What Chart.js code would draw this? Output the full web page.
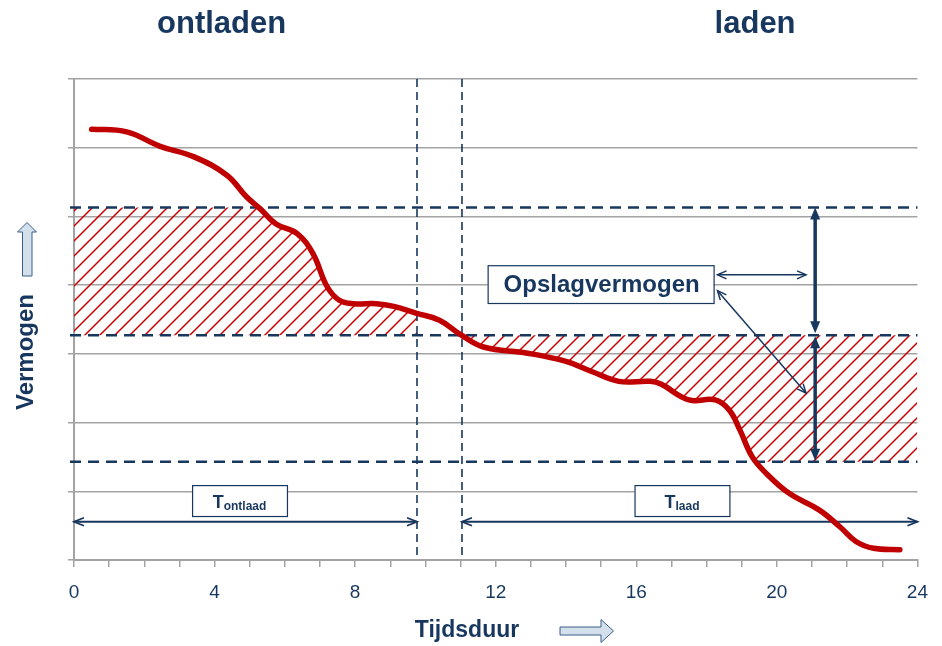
<!DOCTYPE html>
<html>
<head>
<meta charset="utf-8">
<script src="https://cdn.jsdelivr.net/npm/chart.js@4/dist/chart.umd.min.js"></script>
<style>
html, body { margin: 0; padding: 0; background: #fff; }
canvas { display: block; }
</style>
</head>
<body>
<canvas id="vermogenChart" width="942" height="646"></canvas>
<script>
// Vermogen over de tijdsduur (uren)
const uren = [0.5, 1.5, 2.45, 3.4, 4.35, 4.9, 5.3, 5.75, 6.35, 6.8, 7.2, 7.55, 7.95, 8.6, 9.1, 9.75, 10.4, 11.0,
              11.65, 12.9, 14.0, 14.75, 15.5, 16.4, 16.7, 17.5, 18.25, 18.65, 18.95, 19.3, 19.7, 20.35, 21.2,
              21.8, 22.25, 22.75, 23.5];
const vermogen = [6.27, 6.23, 6.02, 5.87, 5.6, 5.29, 5.11, 4.89, 4.75, 4.46, 3.98, 3.78, 3.73, 3.73, 3.69, 3.59,
                  3.49, 3.28, 3.10, 3.01, 2.89, 2.74, 2.60, 2.60, 2.56, 2.33, 2.33, 2.18, 1.89, 1.50, 1.26, 0.97,
                  0.73, 0.48, 0.27, 0.17, 0.15];
const tijdLabels = [0, 4, 8, 12, 16, 20, 24];
const niveaus = [5.13, 3.27, 1.43];   // bovengrens, middenlijn, ondergrens
const grenzen = [9.76, 11.04];        // einde ontladen, begin laden

const NAVY = '#17375e';
const ROOD = '#c00000';
const GRIJS = '#a3a3a3';

function maakArcering(ctx) {
  const s = 15;
  const c = document.createElement('canvas');
  c.width = s; c.height = s;
  const g = c.getContext('2d');
  g.strokeStyle = '#cc0000';
  g.lineWidth = 1.5;
  g.beginPath();
  g.moveTo(0, s); g.lineTo(s, 0);
  g.moveTo(-2, 2); g.lineTo(2, -2);
  g.moveTo(s - 2, s + 2); g.lineTo(s + 2, s - 2);
  g.stroke();
  return ctx.createPattern(c, 'repeat');
}

// arceer de band tussen yLo en yHi, onder of boven de curve
function arceer(chart, x0, x1, yLo, yHi, kant) {
  const { ctx, chartArea: a, scales: { x, y } } = chart;
  const lijn = chart.getDatasetMeta(0).dataset;
  lijn.updateControlPoints(a, 'x');
  const pts = lijn.points;
  const eerste = pts[0], laatste = pts[pts.length - 1];
  const rand = kant === 'onder' ? a.bottom : a.top;
  ctx.save();
  ctx.beginPath();
  ctx.rect(x.getPixelForValue(x0), y.getPixelForValue(yHi),
           x.getPixelForValue(x1) - x.getPixelForValue(x0),
           y.getPixelForValue(yLo) - y.getPixelForValue(yHi));
  ctx.clip();
  ctx.beginPath();
  lijn.path(ctx);
  ctx.lineTo(a.right, laatste.y);
  ctx.lineTo(a.right, rand);
  ctx.lineTo(a.left, rand);
  ctx.lineTo(a.left, eerste.y);
  ctx.closePath();
  ctx.clip();
  ctx.fillStyle = maakArcering(ctx);
  ctx.fillRect(a.left, a.top, a.width, a.height);
  ctx.restore();
}

function pijlKop(ctx, x0, y0, x1, y1, len, half, gevuld) {
  const hoek = Math.atan2(y1 - y0, x1 - x0);
  const bx = x1 - len * Math.cos(hoek), by = y1 - len * Math.sin(hoek);
  const nx = -Math.sin(hoek) * half, ny = Math.cos(hoek) * half;
  ctx.beginPath();
  ctx.moveTo(bx + nx, by + ny);
  ctx.lineTo(x1, y1);
  ctx.lineTo(bx - nx, by - ny);
  if (gevuld) { ctx.closePath(); ctx.fill(); } else { ctx.stroke(); }
}

function dubbelePijl(ctx, x0, y0, x1, y1, breedte, len, half, gevuld) {
  ctx.save();
  ctx.strokeStyle = NAVY;
  ctx.fillStyle = NAVY;
  ctx.lineWidth = breedte;
  const d = Math.hypot(x1 - x0, y1 - y0);
  const ux = (x1 - x0) / d, uy = (y1 - y0) / d;
  const inkort = gevuld ? len * 0.6 : 0;
  ctx.beginPath();
  ctx.moveTo(x0 + ux * inkort, y0 + uy * inkort);
  ctx.lineTo(x1 - ux * inkort, y1 - uy * inkort);
  ctx.stroke();
  ctx.lineWidth = gevuld ? 1 : breedte;
  pijlKop(ctx, x1, y1, x0, y0, len, half, gevuld);
  pijlKop(ctx, x0, y0, x1, y1, len, half, gevuld);
  ctx.restore();
}

function labelVak(ctx, x0, y0, x1, y1) {
  ctx.save();
  ctx.fillStyle = '#ffffff';
  ctx.fillRect(x0, y0, x1 - x0, y1 - y0);
  ctx.strokeStyle = NAVY;
  ctx.lineWidth = 1.2;
  ctx.strokeRect(x0 + 0.5, y0 + 0.5, x1 - x0, y1 - y0);
  ctx.restore();
}

function tMetIndex(ctx, cx, basis, index) {
  ctx.save();
  ctx.fillStyle = NAVY;
  ctx.textBaseline = 'alphabetic';
  ctx.textAlign = 'left';
  ctx.font = 'bold 18px "Liberation Sans", Arial, sans-serif';
  const wT = ctx.measureText('T').width;
  ctx.font = 'bold 12px "Liberation Sans", Arial, sans-serif';
  const wI = ctx.measureText(index).width;
  const start = cx - (wT + wI) / 2;
  ctx.font = 'bold 18px "Liberation Sans", Arial, sans-serif';
  ctx.fillText('T', start, basis);
  ctx.font = 'bold 12px "Liberation Sans", Arial, sans-serif';
  ctx.fillText(index, start + wT, basis + 2);
  ctx.restore();
}

// blokpijl zoals naast de astitels
function blokPijl(ctx, punten) {
  ctx.save();
  ctx.fillStyle = '#d3dfea';
  ctx.strokeStyle = '#3b5f88';
  ctx.lineWidth = 1;
  ctx.beginPath();
  punten.forEach(([px, py], i) => i ? ctx.lineTo(px, py) : ctx.moveTo(px, py));
  ctx.closePath();
  ctx.fill();
  ctx.stroke();
  ctx.restore();
}

const schets = {
  id: 'schets',
  beforeDatasetsDraw(chart) {
    const { ctx, chartArea: a, scales: { x, y } } = chart;
    const px = v => x.getPixelForValue(v);
    const py = v => y.getPixelForValue(v);

    arceer(chart, 0, grenzen[0], niveaus[1], niveaus[0], 'onder');
    arceer(chart, grenzen[1], 24, niveaus[2], niveaus[1], 'boven');

    // gestreepte niveaulijnen
    ctx.save();
    ctx.strokeStyle = NAVY;
    ctx.lineWidth = 2.5;
    ctx.setLineDash([11, 7]);
    niveaus.forEach(n => {
      ctx.beginPath();
      ctx.moveTo(a.left - 4, py(n));
      ctx.lineTo(a.right, py(n));
      ctx.stroke();
    });
    ctx.lineWidth = 1.6;
    ctx.setLineDash([8, 5]);
    grenzen.forEach(t => {
      ctx.beginPath();
      ctx.moveTo(px(t), a.top);
      ctx.lineTo(px(t), a.bottom);
      ctx.stroke();
    });
    ctx.restore();

    // opslagvermogen
    dubbelePijl(ctx, px(21.09), py(niveaus[0]), px(21.09), py(niveaus[1]) - 2, 3.5, 12, 5, true);
    dubbelePijl(ctx, px(21.09), py(niveaus[1]) + 1, px(21.09), py(niveaus[2]) - 1, 3.5, 12, 5, true);
    dubbelePijl(ctx, px(18.31), py(4.15), px(20.83), py(4.15), 1.5, 9, 4, false);
    dubbelePijl(ctx, px(18.31), py(3.92), px(20.83), py(2.43), 1.5, 9, 4, false);
    labelVak(ctx, px(11.77), py(4.29), px(18.2), py(3.74));
    ctx.save();
    ctx.fillStyle = NAVY;
    ctx.font = 'bold 24px "Liberation Sans", Arial, sans-serif';
    ctx.textAlign = 'center';
    ctx.textBaseline = 'middle';
    ctx.fillText('Opslagvermogen', (px(11.77) + px(18.2)) / 2 + 1, (py(4.29) + py(3.74)) / 2 + 1);
    ctx.restore();

    // tijdsduur ontladen en laden
    dubbelePijl(ctx, px(0), py(0.557), px(grenzen[0]), py(0.557), 1.8, 10, 4, false);
    dubbelePijl(ctx, px(grenzen[1]), py(0.557), px(24), py(0.557), 1.8, 10, 4, false);
    labelVak(ctx, px(3.36), py(1.09), px(6.06), py(0.64));
    labelVak(ctx, px(15.95), py(1.09), px(18.65), py(0.64));
    tMetIndex(ctx, (px(3.36) + px(6.06)) / 2, py(0.75), 'ontlaad');
    tMetIndex(ctx, (px(15.95) + px(18.65)) / 2, py(0.75), 'laad');
  },
  afterDraw(chart) {
    const { ctx, scales: { x } } = chart;
    ctx.save();
    ctx.fillStyle = NAVY;
    ctx.textAlign = 'center';
    ctx.textBaseline = 'alphabetic';
    ctx.font = 'bold 31px "Liberation Sans", Arial, sans-serif';
    ctx.fillText('ontladen', x.getPixelForValue(4.2), 33);
    ctx.fillText('laden', x.getPixelForValue(19.38), 33);

    ctx.font = 'bold 23px "Liberation Sans", Arial, sans-serif';
    ctx.fillText('Tijdsduur', 467, 637);
    ctx.font = 'bold 24px "Liberation Sans", Arial, sans-serif';
    ctx.translate(33, 352);
    ctx.rotate(-Math.PI / 2);
    ctx.fillText('Vermogen', 0, 0);
    ctx.restore();

    blokPijl(ctx, [[560, 627], [601, 627], [601, 619.5], [613.5, 631], [601, 642.5], [601, 635], [560, 635]]);
    blokPijl(ctx, [[22.5, 276], [22.5, 232], [17.5, 232], [27, 222.5], [36.5, 232], [32, 232], [32, 276]]);
  }
};

new Chart(document.getElementById('vermogenChart'), {
  type: 'line',
  data: {
    datasets: [{
      data: uren.map((t, i) => ({ x: t, y: vermogen[i] })),
      borderColor: ROOD,
      borderWidth: 5.5,
      borderCapStyle: 'round',
      borderJoinStyle: 'round',
      pointRadius: 0,
      tension: 0.4,
      fill: false
    }]
  },
  options: {
    responsive: false,
    animation: false,
    devicePixelRatio: 1,
    events: [],
    layout: { padding: { left: 0, right: 24, top: 79, bottom: 0 } },
    scales: {
      x: {
        type: 'linear',
        min: 0,
        max: 24,
        afterFit: s => { s.height = 86; },
        ticks: {
          stepSize: 1,
          autoSkip: false,
          maxRotation: 0,
          padding: 14,
          color: NAVY,
          font: { family: '"Liberation Sans", Arial, sans-serif', size: 19 },
          callback: v => tijdLabels.includes(v) ? String(v) : ''
        },
        grid: { drawOnChartArea: false, drawTicks: true, tickLength: 7, color: GRIJS, lineWidth: 1.5 },
        border: { color: GRIJS, width: 2 }
      },
      y: {
        min: 0,
        max: 7,
        afterFit: s => { s.width = 74; },
        ticks: { stepSize: 1, padding: 0, callback: () => '' },
        grid: { color: GRIJS, lineWidth: 1.5, tickLength: 6 },
        border: { color: GRIJS, width: 2 }
      }
    },
    plugins: {
      legend: { display: false },
      tooltip: { enabled: false }
    }
  },
  plugins: [schets]
});
</script>
</body>
</html>
